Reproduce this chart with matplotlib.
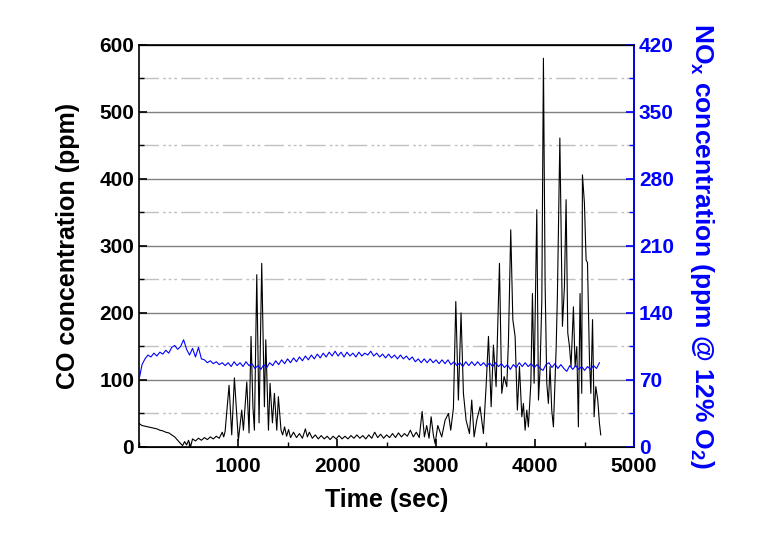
import numpy as np
import matplotlib
matplotlib.use("Agg")
import matplotlib.pyplot as plt
from matplotlib.ticker import MultipleLocator

plt.rcParams['font.family'] = ['Liberation Sans', 'DejaVu Sans']
plt.rcParams['font.weight'] = 'bold'
plt.rcParams['mathtext.fontset'] = 'custom'
plt.rcParams['mathtext.rm'] = 'Liberation Sans:bold'
plt.rcParams['mathtext.bf'] = 'Liberation Sans:bold'

# CO concentration (ppm), time in seconds
CO_TIME = [
    0, 30, 60, 90, 120, 150, 180, 210, 240, 270, 300, 330, 360, 390, 420, 440,
    460, 480, 500, 520, 540, 570, 600, 630, 660, 690, 720, 750, 780, 810, 840, 855,
    869, 909, 936, 963, 1003, 1037, 1054, 1088, 1111, 1131, 1150, 1165, 1189, 1212,
    1239, 1266, 1280, 1307, 1323, 1347, 1367, 1391, 1407, 1434,
    1450, 1470, 1490, 1510, 1530, 1560, 1590, 1620, 1650, 1680, 1700, 1720, 1750,
    1780, 1810, 1840, 1870, 1900, 1930, 1960, 1990, 2020, 2050, 2080, 2110, 2140,
    2170, 2200, 2230, 2260, 2290, 2320, 2350, 2380, 2410, 2440, 2470, 2500, 2530,
    2560, 2590, 2620, 2650, 2680, 2710, 2740, 2770, 2800, 2830, 2859, 2882, 2905,
    2929, 2950, 2973, 2990, 3017,
    3057, 3091, 3125, 3148, 3175, 3199, 3225, 3252, 3276, 3303, 3337, 3360, 3384,
    3411, 3444, 3478, 3505, 3529, 3556, 3579, 3606, 3640, 3663, 3687, 3714, 3731,
    3754, 3775, 3798, 3821, 3842, 3866, 3882, 3899, 3916, 3932, 3957, 3973, 3990,
    4017, 4034, 4050, 4068, 4084, 4101, 4118, 4134, 4151, 4168, 4185, 4212, 4225,
    4250, 4276, 4296, 4313, 4330, 4347, 4363, 4387, 4404, 4421, 4437, 4454, 4471,
    4478, 4498, 4515, 4529, 4549, 4563, 4580, 4596, 4613, 4633, 4650, 4663,
]
CO_PPM = [
    35, 32, 31, 30, 29, 28, 27, 25, 24, 22, 21, 18, 15, 10, 5, 2,
    8, 3, 10, 0, 12, 9, 13, 10, 14, 11, 15, 12, 16, 13, 22, 15,
    23, 92, 18, 103, 10, 55, 25, 97, 21, 165, 60, 25, 257, 36,
    274, 60, 160, 25, 95, 36, 80, 25, 75, 25,
    18, 30, 16, 26, 14, 22, 14, 20, 13, 27, 15, 22, 13,
    18, 12, 17, 12, 16, 11, 16, 12, 17, 12, 16, 12, 17,
    13, 18, 13, 17, 12, 18, 13, 22, 14, 19, 13, 18, 14,
    20, 14, 21, 15, 20, 16, 25, 15, 22, 14, 53, 15, 32,
    13, 45, 17, 5, 32,
    15, 40, 50, 25, 58, 217, 70, 200, 80, 40, 20, 70, 15,
    40, 60, 20, 90, 165, 60, 152, 90, 274, 80, 105, 90, 160,
    324, 190, 165, 55, 120, 45, 65, 25, 55, 30, 95, 229, 95,
    354, 70, 115, 220, 580, 244, 95, 65, 120, 55, 30, 145, 224,
    461, 180, 239, 369, 170, 150, 120, 209, 120, 150, 30, 229, 80,
    406, 364, 279, 275, 130, 80, 190, 45, 90, 70, 35, 18,
]

# NOx concentration (ppm @ 12% O2), one reading every 30 s
NOX_DT = 30
NOX_PPM = [
    70, 86, 92, 96, 94, 98, 95, 99, 97, 101, 98, 104, 106, 102, 105, 112,
    102, 96, 103, 94, 104, 92, 91, 88, 90, 87, 89, 86, 88, 85, 88, 84,
    89, 85, 88, 84, 89, 85, 87, 82, 85, 81, 86, 83, 88, 85, 90, 86,
    91, 87, 92, 88, 93, 89, 94, 90, 95, 91, 96, 92, 97, 93, 98, 94,
    99, 95, 100, 95, 99, 94, 99, 95, 98, 94, 99, 95, 98, 96, 100, 95,
    98, 94, 97, 93, 97, 93, 96, 92, 96, 92, 95, 91, 94, 89, 92, 88,
    92, 88, 92, 88, 91, 87, 91, 87, 91, 86, 89, 85, 88, 84, 89, 85,
    89, 85, 89, 85, 88, 84, 88, 84, 88, 84, 87, 83, 86, 81, 86, 83,
    88, 84, 88, 84, 87, 83, 86, 82, 80, 86, 88, 83, 87, 82, 86, 82,
    79, 85, 81, 85, 81, 84, 80, 84, 81, 85, 82, 88,
]

CO_COLOR = "#000000"
NOX_COLOR = "#0000FF"


def main():
    fig = plt.figure(figsize=(7.64, 5.34), dpi=100)
    ax = fig.add_axes([0.182, 0.163, 0.648, 0.753])

    nox_time = np.arange(len(NOX_PPM)) * NOX_DT

    # grid: solid at major, dash-dot at minor
    ax.set_axisbelow(True)
    ax.yaxis.grid(True, which='major', color='#808080', linewidth=1.0, linestyle='-')
    ax.yaxis.grid(True, which='minor', color='#c0c0c0', linewidth=1.0,
                  linestyle=(0, (14, 3, 2, 2, 2, 2, 2, 3)))

    ax.plot(CO_TIME, CO_PPM, color=CO_COLOR, linewidth=0.8, zorder=3)

    ax.set_xlim(0, 5000)
    ax.set_ylim(0, 600)
    ax.xaxis.set_major_locator(MultipleLocator(1000))
    ax.xaxis.set_minor_locator(MultipleLocator(500))
    ax.yaxis.set_major_locator(MultipleLocator(100))
    ax.yaxis.set_minor_locator(MultipleLocator(50))
    ax.set_xticks([1000, 2000, 3000, 4000, 5000])
    ax.tick_params(axis='both', which='both', direction='in', labelsize=15)
    ax.tick_params(which='major', length=6, width=1.2)
    ax.tick_params(which='minor', length=3.5, width=1.0)
    ax.tick_params(axis='x', pad=7)
    ax.set_xlabel("Time (sec)", fontsize=18, fontweight='bold', labelpad=9)
    ax.set_ylabel("CO concentration (ppm)", fontsize=18, fontweight='bold', labelpad=14)

    ax2 = ax.twinx()
    ax2.plot(nox_time, NOX_PPM, color=NOX_COLOR, linewidth=0.8, zorder=4)
    ax2.set_ylim(0, 420)
    ax2.yaxis.set_major_locator(MultipleLocator(70))
    ax2.yaxis.set_minor_locator(MultipleLocator(35))
    ax2.tick_params(axis='y', which='both', direction='in', colors=NOX_COLOR, labelsize=15)
    ax2.tick_params(which='major', length=6, width=1.2)
    ax2.tick_params(which='minor', length=3.5, width=1.0)
    ax2.spines['right'].set_color(NOX_COLOR)
    ax2.spines['left'].set_visible(False)
    ax2.set_ylabel(r"NO$_\mathbf{x}$ concentration (ppm @ 12% O$_\mathbf{2}$)",
                   fontsize=19, fontweight='bold', color=NOX_COLOR,
                   rotation=270, labelpad=30)

    for sp in ax.spines.values():
        sp.set_linewidth(1.2)
    ax2.spines['right'].set_linewidth(1.2)

    plt.savefig("out.png", dpi=100)
    plt.close()


if __name__ == "__main__":
    main()
